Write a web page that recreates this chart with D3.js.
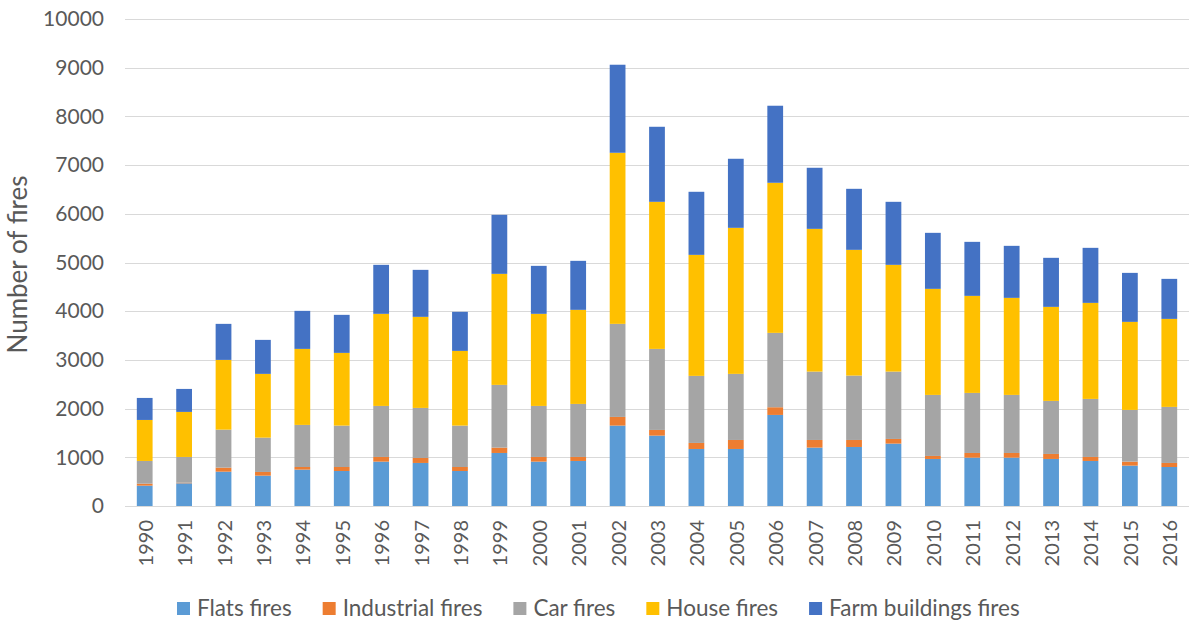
<!DOCTYPE html>
<html>
<head>
<meta charset="utf-8">
<script src="https://cdn.jsdelivr.net/npm/d3@7"></script>
<style>
  html, body { margin: 0; padding: 0; background: #fff; }
  svg { display: block; font-family: Lato, "Open Sans", sans-serif; }
</style>
</head>
<body>
<svg id="chart" width="1191" height="621"></svg>
<script>
// Fire counts per year, by type of building / vehicle
const years = ["1990","1991","1992","1993","1994","1995","1996","1997","1998","1999",
  "2000","2001","2002","2003","2004","2005","2006","2007","2008","2009",
  "2010","2011","2012","2013","2014","2015","2016"];

const flatsFires = [418, 466, 705, 623, 747, 719, 911, 884, 719, 1089,
  911, 925, 1651, 1445, 1171, 1171, 1870, 1199, 1212, 1281,
  966, 993, 993, 966, 925, 829, 801];
const industrialFires = [41, 13, 83, 76, 54, 82, 96, 102, 82, 110,
  96, 82, 178, 117, 124, 185, 158, 157, 144, 96,
  62, 96, 96, 103, 82, 82, 83];
const carFires = [466, 528, 780, 705, 864, 850, 1048, 1028, 850, 1288,
  1048, 1089, 1911, 1664, 1377, 1357, 1527, 1404, 1322, 1383,
  1253, 1233, 1192, 1089, 1192, 1062, 1151];
const houseFires = [842, 925, 1432, 1309, 1561, 1493, 1891, 1870, 1534, 2280,
  1891, 1932, 3513, 3020, 2485, 2999, 3082, 2931, 2582, 2192,
  2178, 1993, 1993, 1931, 1972, 1808, 1807];
const farmFires = [452, 472, 740, 698, 781, 781, 1006, 965, 802, 1212,
  985, 1006, 1808, 1541, 1295, 1418, 1582, 1254, 1253, 1294,
  1150, 1109, 1068, 1007, 1130, 1006, 822];

const seriesNames = ["Flats fires", "Industrial fires", "Car fires", "House fires", "Farm buildings fires"];
const seriesColors = ["#5B9BD5", "#ED7D31", "#A5A5A5", "#FFC000", "#4472C4"];
const yTicks = [0, 1000, 2000, 3000, 4000, 5000, 6000, 7000, 8000, 9000, 10000];

const seriesValues = [flatsFires, industrialFires, carFires, houseFires, farmFires];
const rows = years.map((y, i) => {
  const r = { year: y };
  seriesNames.forEach((s, k) => { r[s] = seriesValues[k][i]; });
  return r;
});

const svg = d3.select("#chart");
const margin = { top: 19, right: 2, bottom: 115, left: 125 };
const W = 1191, H = 621;
const plotW = W - margin.left - margin.right;
const plotH = H - margin.top - margin.bottom;

const x = d3.scaleBand().domain(years).range([0, plotW]).paddingInner(0.6).paddingOuter(0.3);
const y = d3.scaleLinear().domain([0, 10000]).range([plotH, 0]);
const color = d3.scaleOrdinal().domain(seriesNames).range(seriesColors);

const g = svg.append("g").attr("transform", `translate(${margin.left},${margin.top})`);

// horizontal gridlines
g.append("g")
  .selectAll("line")
  .data(yTicks)
  .join("line")
  .attr("x1", 0).attr("x2", plotW)
  .attr("y1", d => Math.round(y(d)) + 0.5)
  .attr("y2", d => Math.round(y(d)) + 0.5)
  .attr("stroke", "#D9D9D9")
  .attr("stroke-width", 1);

// stacked bars
const stack = d3.stack().keys(seriesNames);
const layers = stack(rows);
g.append("g")
  .selectAll("g")
  .data(layers)
  .join("g")
  .attr("fill", d => color(d.key))
  .selectAll("rect")
  .data(d => d)
  .join("rect")
  .attr("x", d => x(d.data.year))
  .attr("width", x.bandwidth())
  .attr("y", d => y(d[1]))
  .attr("height", d => y(d[0]) - y(d[1]));

// y axis labels
const yAxis = d3.axisLeft(y).tickValues(yTicks).tickSize(0).tickPadding(21).tickFormat(d3.format("d"));
g.append("g")
  .call(yAxis)
  .call(s => s.select(".domain").remove())
  .call(s => s.selectAll("text")
    .attr("fill", "#595959")
    .style("font-size", "21px")
    .style("font-family", "Lato, 'Open Sans', sans-serif"));

// x axis labels, rotated
const xAxis = d3.axisBottom(x).tickSize(0).tickPadding(0);
g.append("g")
  .attr("transform", `translate(0,${plotH})`)
  .call(xAxis)
  .call(s => s.select(".domain").remove())
  .call(s => s.selectAll("text")
    .attr("fill", "#595959")
    .style("font-size", "20px")
    .style("font-family", "Lato, 'Open Sans', sans-serif")
    .attr("text-anchor", "end")
    .attr("dy", "0.35em")
    .attr("transform", "translate(1,14) rotate(-90)"));

// y axis title
svg.append("text")
  .attr("transform", `translate(27,${margin.top + plotH / 2 + 2}) rotate(-90)`)
  .attr("text-anchor", "middle")
  .attr("fill", "#595959")
  .style("font-size", "26px")
  .text("Number of fires");

// legend
const legend = svg.append("g");
const items = legend.selectAll("g").data(seriesNames).join("g");
items.append("rect").attr("width", 13).attr("height", 13).attr("y", -6)
  .attr("fill", d => color(d));
items.append("text").attr("x", 20).attr("dy", "0.35em")
  .attr("fill", "#595959").style("font-size", "22.5px").text(d => d);
let cursor = 0;
items.each(function () {
  const gi = d3.select(this);
  gi.attr("transform", `translate(${cursor},0)`);
  const tw = gi.select("text").node().getComputedTextLength();
  cursor += 20 + tw + 31;
});
const legendW = cursor - 31;
legend.attr("transform", `translate(${Math.round(598 - legendW / 2)},608)`);
</script>
</body>
</html>
